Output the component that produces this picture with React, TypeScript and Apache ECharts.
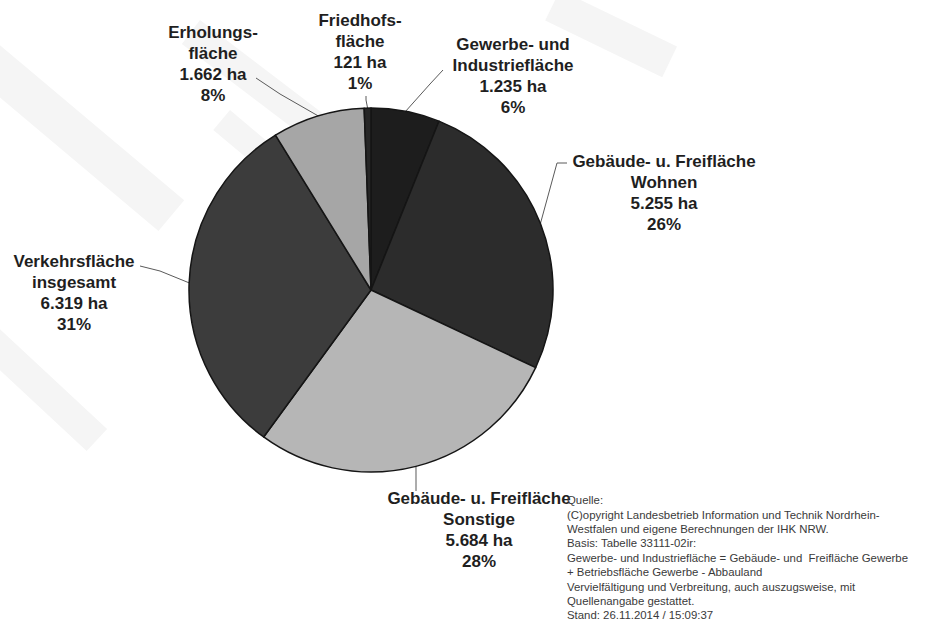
import React, { useEffect, useRef } from "react";
import * as echarts from "echarts";

// ---- data ----
const categories = [
  "Gewerbe- und\nIndustriefläche",
  "Gebäude- u. Freifläche\nWohnen",
  "Gebäude- u. Freifläche\nSonstige",
  "Verkehrsfläche\ninsgesamt",
  "Erholungs-\nfläche",
  "Friedhofs-\nfläche",
];
const valuesHa = [1235, 5255, 5684, 6319, 1662, 121];
const sourceLines = [
  "Quelle:",
  "(C)opyright Landesbetrieb Information und Technik Nordrhein-",
  "Westfalen und eigene Berechnungen der IHK NRW.",
  "Basis: Tabelle 33111-02ir:",
  "Gewerbe- und Industriefläche = Gebäude- und  Freifläche Gewerbe",
  "+ Betriebsfläche Gewerbe - Abbauland",
  "Vervielfältigung und Verbreitung, auch auszugsweise, mit",
  "Quellenangabe gestattet.",
  "Stand: 26.11.2014 / 15:09:37",
];

// ---- styling / layout ----
const sliceColors = ["#1d1d1d", "#2c2c2c", "#b6b6b6", "#3c3c3c", "#a6a6a6", "#262626"];
// label block: center x, top y ; line: bend point, end point (near label)
const labelPos = [
  { x: 513, y: 34, bend: [430, 84], end: [443, 70] },
  { x: 664, y: 151, bend: [557, 163], end: [567, 163] },
  { x: 479, y: 488, bend: [416, 480], end: [416, 491] },
  { x: 74, y: 251, bend: [160, 271], end: [140, 266] },
  { x: 213, y: 22, bend: [280, 94], end: [256, 78] },
  { x: 360, y: 10, bend: [366, 100], end: [366, 96] },
];

function fmtDe(n: number): string {
  const s = String(Math.round(n));
  return s.replace(/\B(?=(\d{3})+(?!\d))/g, ".");
}

export default function App() {
  const ref = useRef<HTMLDivElement>(null);
  useEffect(() => {
    if (!ref.current) return;
    const chart = echarts.init(ref.current, null, { renderer: "svg" });
    const total = valuesHa.reduce((a, b) => a + b, 0);
    const bands = [
      { x: -30, y: 20, w: 280, h: 40, r: -0.7 },
      { x: 200, y: 20, w: 180, h: 30, r: -0.65 },
      { x: 560, y: -10, w: 130, h: 34, r: -0.45 },
      { x: -10, y: 320, w: 160, h: 30, r: -0.75 },
      { x: 230, y: 110, w: 120, h: 26, r: -0.7 },
    ];
    chart.setOption({
      animation: false,
      backgroundColor: "#ffffff",
      graphic: [
        ...bands.map((b) => ({
          type: "rect",
          x: b.x,
          y: b.y,
          rotation: b.r,
          originX: 0,
          originY: 0,
          shape: { x: 0, y: 0, width: b.w, height: b.h },
          style: { fill: "#f5f5f5" },
          z: -10,
          silent: true,
        })),
        {
          type: "text",
          left: 567,
          top: 493,
          z: 10,
          style: {
            text: sourceLines.join("\n"),
            font: "11.4px 'Liberation Sans', Arial, sans-serif",
            lineHeight: 14.4,
            fill: "#3a3a3a",
          },
        },
      ],
      series: [
        {
          type: "pie",
          center: [371, 290],
          radius: 182,
          startAngle: 90,
          clockwise: true,
          avoidLabelOverlap: false,
          data: valuesHa.map((v, i) => ({
            name: categories[i],
            value: v,
            itemStyle: { color: sliceColors[i] },
          })),
          itemStyle: { borderColor: "#151515", borderWidth: 1.5 },
          emphasis: { disabled: true },
          label: {
            show: true,
            position: "outside",
            formatter: (p: any) =>
              `${p.name}\n${fmtDe(p.value)} ha\n${Math.round((p.value / total) * 100)}%`,
            fontFamily: "'Liberation Sans', Arial, sans-serif",
            fontWeight: "bold",
            fontSize: 17,
            lineHeight: 21,
            color: "#1f1f1f",
            align: "center",
          },
          labelLine: {
            show: true,
            length: 10,
            length2: 10,
            lineStyle: { color: "#5a5a5a", width: 1 },
          },
          labelLayout: (params: any) => {
            const lp = labelPos[params.dataIndex];
            const anchor = params.labelLinePoints ? params.labelLinePoints[0] : lp.bend;
            return {
              x: lp.x,
              y: lp.y,
              align: "center",
              verticalAlign: "top",
              labelLinePoints: [anchor, lp.bend, lp.end],
            };
          },
        },
      ],
    });
    return () => chart.dispose();
  }, []);
  return (
    <div
      ref={ref}
      style={{ position: "fixed", left: 0, top: 0, width: 941, height: 634, background: "#fff" }}
    />
  );
}
